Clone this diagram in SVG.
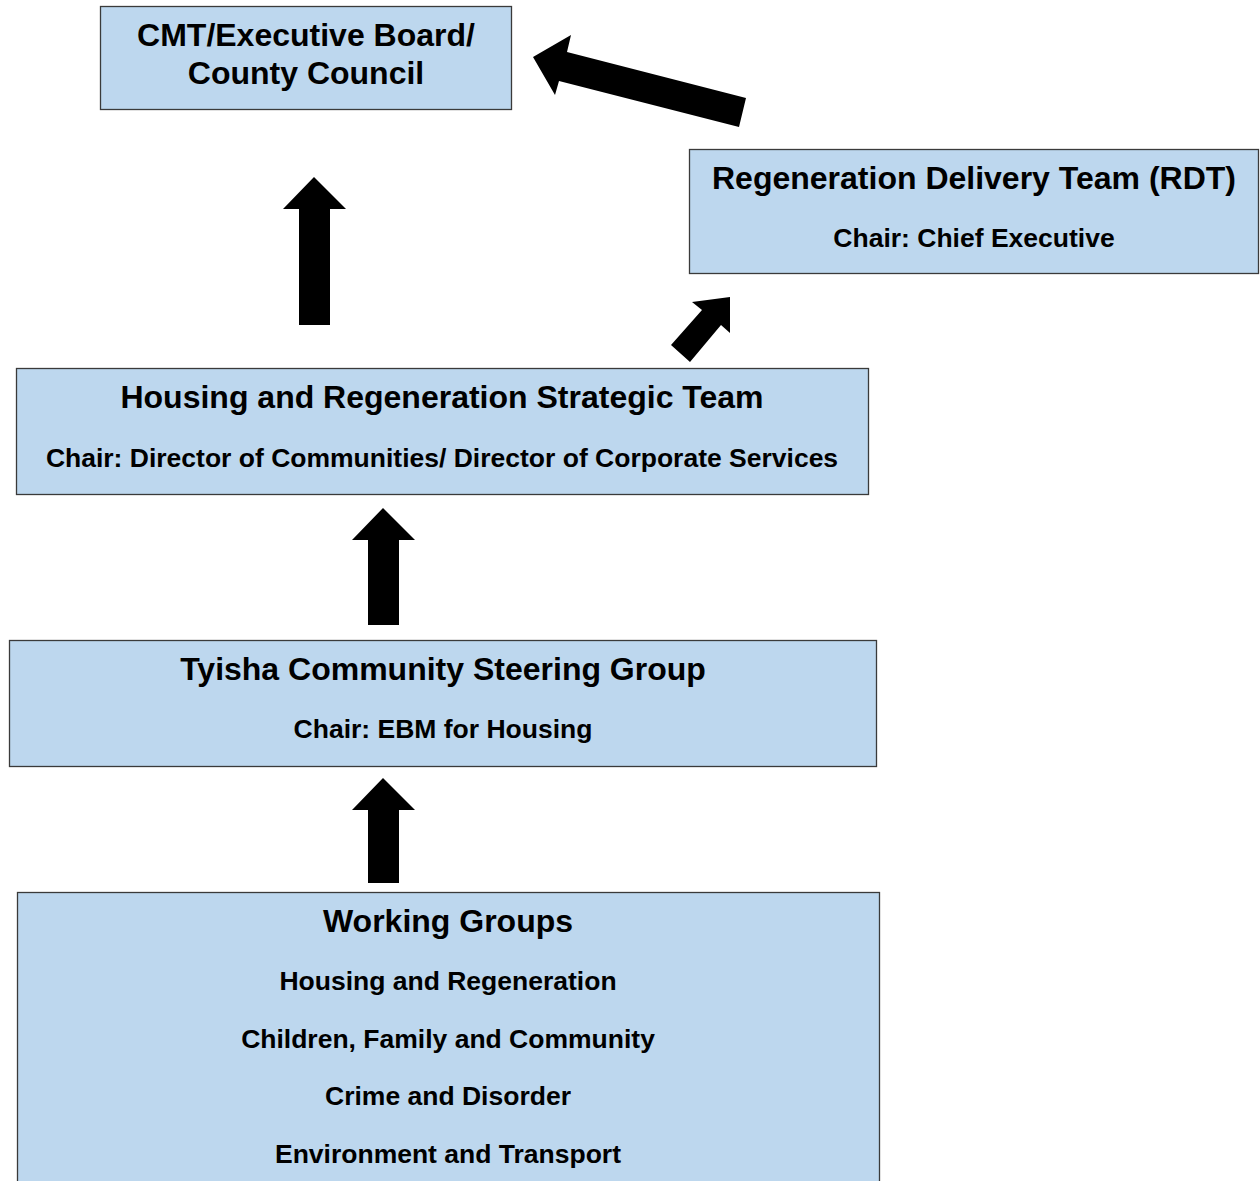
<svg xmlns="http://www.w3.org/2000/svg" width="1260" height="1181" viewBox="0 0 1260 1181">
<style>
.box{fill:#bdd7ee;stroke:#3a3a3a;stroke-width:1.3}
.t{font-family:"Liberation Sans",Arial,sans-serif;font-weight:bold;fill:#000;text-anchor:middle}
.h{font-size:32px}
.s{font-size:26.5px}
.arr{fill:#000}
</style>
<rect x="0" y="0" width="1260" height="1181" fill="#fff"/>
<g id="cmt">
<rect class="box" x="100.5" y="6.5" width="411" height="103"/>
<text class="t h" x="306" y="46">CMT/Executive Board/</text>
<text class="t h" x="306" y="84">County Council</text>
</g>
<g id="rdt">
<rect class="box" x="689.5" y="149.5" width="569" height="124"/>
<text class="t h" x="974" y="189">Regeneration Delivery Team (RDT)</text>
<text class="t s" x="974" y="247">Chair: Chief Executive</text>
</g>
<g id="hrst">
<rect class="box" x="16.5" y="368.5" width="852" height="126"/>
<text class="t h" x="442" y="408">Housing and Regeneration Strategic Team</text>
<text class="t s" x="442" y="467">Chair: Director of Communities/ Director of Corporate Services</text>
</g>
<g id="tyisha">
<rect class="box" x="9.5" y="640.5" width="867" height="126"/>
<text class="t h" x="443" y="680">Tyisha Community Steering Group</text>
<text class="t s" x="443" y="738">Chair: EBM for Housing</text>
</g>
<g id="working">
<rect class="box" x="17.5" y="892.5" width="862" height="300"/>
<text class="t h" x="448" y="932">Working Groups</text>
<text class="t s" x="448" y="990">Housing and Regeneration</text>
<text class="t s" x="448" y="1048">Children, Family and Community</text>
<text class="t s" x="448" y="1105">Crime and Disorder</text>
<text class="t s" x="448" y="1163">Environment and Transport</text>
</g>
<g id="connectors">
<polygon class="arr" points="314,177 346,209 330,209 330,325 299,325 299,209 283,209"/>
<polygon class="arr" points="383,508 415,540 399,540 399,625 368,625 368,540 352,540"/>
<polygon class="arr" points="383,778 415,810 399,810 399,883 368,883 368,810 352,810"/>
<polygon class="arr" points="730,297 730,333 721,325 690,362 671,345 702,310 692,302"/>
<polygon class="arr" points="533,57 571,35 567,52 746,98 739,127 559,81 555,95"/>
</g>
</svg>
